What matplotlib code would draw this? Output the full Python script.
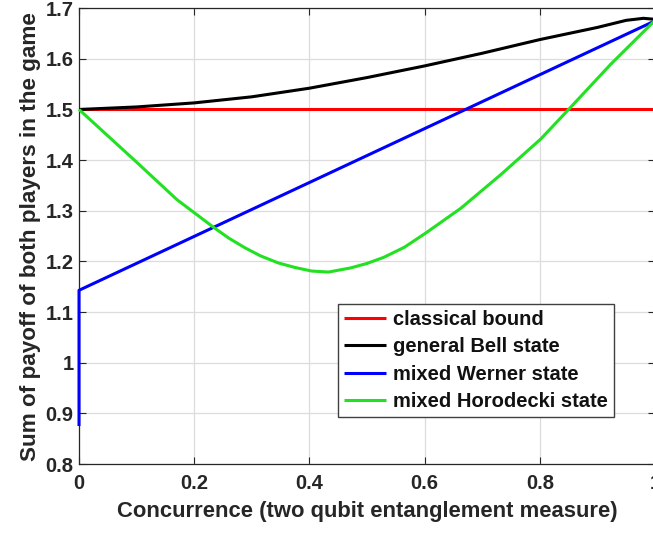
import matplotlib
matplotlib.use("Agg")
import matplotlib.pyplot as plt

plt.rcParams['font.family'] = ['Liberation Sans', 'DejaVu Sans']
plt.rcParams['font.weight'] = 'bold'

# concurrence values and payoff sums
c_classical = [0.0, 1.0]
v_classical = [1.5, 1.5]

c_bell = [0.0, 0.1, 0.2, 0.3, 0.4, 0.5, 0.6, 0.7, 0.8, 0.9, 0.95, 0.98, 1.0]
v_bell = [1.500, 1.505, 1.513, 1.525, 1.542, 1.563, 1.586, 1.611, 1.638,
          1.662, 1.676, 1.680, 1.678]

c_werner = [0.0, 0.0, 1.0]
v_werner = [0.875, 1.143, 1.675]

c_horo = [0.0, 0.1, 0.17, 0.234, 0.26, 0.288, 0.315, 0.346, 0.375, 0.404,
          0.433, 0.471, 0.5, 0.529, 0.565, 0.602, 0.663, 0.732, 0.802,
          0.85, 0.923, 1.0]
v_horo = [1.500, 1.396, 1.322, 1.267, 1.246, 1.227, 1.211, 1.197, 1.188,
          1.181, 1.179, 1.187, 1.196, 1.208, 1.228, 1.256, 1.305, 1.371,
          1.442, 1.500, 1.589, 1.676]

labels = ['classical bound', 'general Bell state', 'mixed Werner state',
          'mixed Horodecki state']
colors = ['#ff0000', '#000000', '#0000ff', '#22e022']

xticks = [0, 0.2, 0.4, 0.6, 0.8, 1.0]
xticklabels = ['0', '0.2', '0.4', '0.6', '0.8', '1']
yticks = [0.8, 0.9, 1.0, 1.1, 1.2, 1.3, 1.4, 1.5, 1.6, 1.7]
yticklabels = ['0.8', '0.9', '1', '1.1', '1.2', '1.3', '1.4', '1.5', '1.6', '1.7']

fig = plt.figure(figsize=(6.53, 5.35), dpi=100)
ax = fig.add_axes([0.121, 0.1327, 0.882, 0.852])

series = [(c_classical, v_classical), (c_bell, v_bell),
          (c_werner, v_werner), (c_horo, v_horo)]
for (xs, ys), lab, col in zip(series, labels, colors):
    ax.plot(xs, ys, color=col, lw=2.2, label=lab, solid_capstyle='butt',
            clip_on=False, zorder=3)

ax.set_xlim(0, 1)
ax.set_ylim(0.8, 1.7)
ax.set_xticks(xticks)
ax.set_xticklabels(xticklabels)
ax.set_yticks(yticks)
ax.set_yticklabels(yticklabels)
ax.grid(True, color='#dcdcdc', lw=0.9)
ax.set_axisbelow(True)
ax.tick_params(direction='in', top=True, right=True, length=5,
               labelsize=14.5, colors='#262626')
ax.tick_params(axis='x', pad=7)
ax.tick_params(axis='y', pad=4)
for sp in ax.spines.values():
    sp.set_color('#262626')
    sp.set_linewidth(0.9)

ax.set_xlabel('Concurrence (two qubit entanglement measure)', fontsize=15.8,
              fontweight='bold', color='#262626', labelpad=6)
ax.set_ylabel('Sum of payoff of both players in the game', fontsize=16.2,
              fontweight='bold', color='#262626', labelpad=3)

leg = ax.legend(loc='lower right', bbox_to_anchor=(0.929, 0.103),
                fontsize=14.5, fancybox=False, framealpha=1,
                edgecolor='#404040', handlelength=2.1, borderpad=0.3,
                labelspacing=0.42, handletextpad=0.35, borderaxespad=0)
leg.get_frame().set_linewidth(1.0)
for t in leg.get_texts():
    t.set_fontweight('bold')
    t.set_color('#111111')

fig.savefig('out.png', dpi=100)
